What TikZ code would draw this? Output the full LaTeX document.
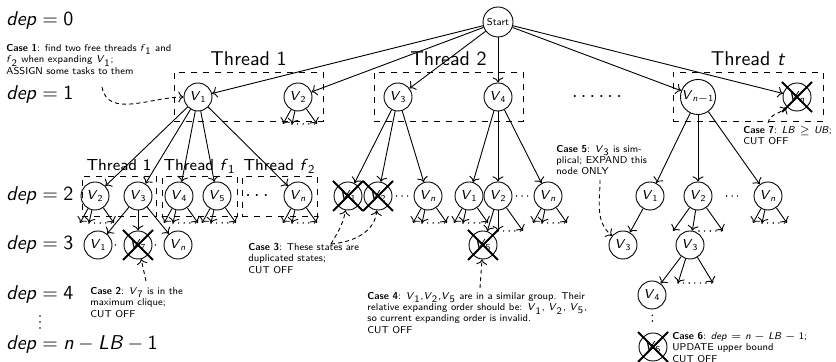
\documentclass[tikz,border=0pt]{standalone}
\usepackage{tikz}
\usetikzlibrary{positioning,arrows.meta,calc}
\renewcommand{\familydefault}{\sfdefault}
\newcommand{\vtx}[1]{\textit{V}\textsubscript{#1}}
\newcommand{\fv}[1]{\textit{f}\textsubscript{#1}}
\newcommand{\casenote}[1]{\textbf{Case #1}:}
\newcommand{\kids}[1]{%
  \path (#1) ++(-15,27) coordinate (#1-l) ++(9,0) coordinate (#1-m) ++(25,0) coordinate (#1-r);
  \draw[->] (#1) -- (#1-l);
  \draw[->] (#1) -- (#1-m);
  \draw[->] (#1) -- (#1-r);
  \draw[dotrow] (#1-m) -- (#1-r);}

\begin{document}
\begin{tikzpicture}[x=0.5pt, y=-0.5pt, line width=0.45pt,
  st/.style={circle, draw, minimum size=14pt, inner sep=0pt, font=\fontsize{6.5}{7}\selectfont},
  xline/.style={line width=0.9pt},
  cut/.style={st, append after command={
      ([shift={(-15,-15)}]\tikzlastnode.center) edge[xline] ([shift={(15,15)}]\tikzlastnode.center)
      ([shift={(-15,15)}]\tikzlastnode.center) edge[xline] ([shift={(15,-15)}]\tikzlastnode.center)}},
  grp/.style={draw, dashed, inner sep=0pt, minimum height=#1},
  lab/.style={font=\normalsize, inner sep=2pt, text depth=0pt},
  sublab/.style={lab, font=\fontsize{8}{9}\selectfont},
  note/.style={font=\fontsize{5}{5.6}\selectfont, align=left, anchor=north west, inner sep=0pt},
  hint/.style={->, dash pattern=on 2pt off 1.6pt},
  dotrow/.style={line width=0.8pt, line cap=round, dash pattern=on 0pt off 2.8pt},
  deplab/.style={anchor=west, inner sep=0pt, font=\normalsize}]
\useasboundingbox (0,0) rectangle (836,362);

\node[deplab] (d0) at (6,21) {\textit{dep}${}={}$0};
\node[deplab] (d1) at (6,95) {\textit{dep}${}={}$1};
\node[deplab] (d2) at (6,196) {\textit{dep}${}={}$2};
\node[deplab] (d3) at (6,245) {\textit{dep}${}={}$3};
\node[deplab] (d4) at (6,295) {\textit{dep}${}={}$4};
\coordinate (dvtop) at (40,316);
\coordinate (dvbot) at (40,330);
\draw[dotrow, line width=0.9pt, dash pattern=on 0pt off 3pt] (dvtop) -- (dvbot);
\node[deplab] (dlast) at (6,345) {\textit{dep}${}={}$\textit{n}${}-{}$\textit{LB}${}-{}$1};

% thread boxes
\node[grp=24.5pt, minimum width=74.5pt] (t1) at (248.5,96.5) {};
\node[grp=24.5pt, minimum width=74.5pt] (t2) at (448.5,96.5) {};
\node[grp=24.5pt, minimum width=75pt] (t3) at (748,96.5) {};
\node[lab, above=1pt of t1] (t1lab) {Thread 1};
\node[lab, above=1pt of t2] (t2lab) {Thread 2};
\node[lab, above=1pt of t3] (t3lab) {Thread \textit{t}};
\node[grp=20pt, minimum width=37pt] (g1) at (119,196.5) {};
\node[grp=20pt, minimum width=37.5pt] (g2) at (199.5,196.5) {};
\node[grp=20pt, minimum width=37.5pt] (g3) at (279.5,196.5) {};
\node[sublab, above=0.5pt of g1] (g1lab) {Thread 1};
\node[sublab, above=0.5pt of g2] (g2lab) {Thread \fv{1}};
\node[sublab, above=0.5pt of g3] (g3lab) {Thread \fv{2}};

\node[st, minimum size=15pt, font=\tiny] (start) at (498,22) {Start};
\node[st] (v1) at (198,97) {\vtx{1}};
\node[st] (v2) at (298,97) {\vtx{2}};
\node[st] (v3) at (398,97) {\vtx{3}};
\node[st] (v4) at (498,97) {\vtx{4}};
\node (gap) at (597,97) {$\cdots\cdots$};
\node[st] (vm) at (698,97) {\vtx{\textit{n}$-$1}};
\node[cut] (vx) at (797,97) {\vtx{\textit{n}}};
\foreach \v in {v1,v2,v3,v4,vm,vx}
  \draw[->] (start) -- (\v);

\node[st] (a2) at (95,196) {\vtx{2}};
\node[st] (a3) at (138,196) {\vtx{3}};
\node[st] (a4) at (179,196) {\vtx{4}};
\node[st] (a5) at (217,196) {\vtx{5}};
\node (adots) at (257,196) {$\cdots$};
\node[st] (an) at (298,196) {\vtx{\textit{n}}};
\foreach \v in {a2,a3,a4,a5,an}
  \draw[->] (v1) -- (\v);

\node[cut] (b1) at (348,196) {\vtx{1}};
\node[cut] (b2) at (378,196) {\vtx{2}};
\node[st] (bn) at (428,196) {\vtx{\textit{n}}};
\node[st] (c1) at (469,196) {\vtx{1}};
\node[st] (c2) at (498,196) {\vtx{2}};
\node[st] (cn) at (548,196) {\vtx{\textit{n}}};
\node[st] (e1) at (650,196) {\vtx{1}};
\node[st] (e2) at (698,196) {\vtx{2}};
\node[st] (en) at (768,196) {\vtx{\textit{n}}};
\foreach \v in {b1,b2,bn}
  \draw[->] (v3) -- (\v);
\foreach \v in {c1,c2,cn}
  \draw[->] (v4) -- (\v);
\foreach \v in {e1,e2,en}
  \draw[->] (vm) -- (\v);
\draw[dotrow, shorten <=2pt, shorten >=2pt] (b2) -- (bn);
\draw[dotrow, shorten <=2pt, shorten >=2pt] (c2) -- (cn);
\draw[dotrow, shorten <=7pt, shorten >=7pt] (e2) -- (en);

\node[st] (h1) at (98,245) {\vtx{1}};
\node[cut] (hx) at (138,245) {\vtx{7}};
\node[st] (hn) at (178,245) {\vtx{\textit{n}}};
\foreach \v in {h1,hx,hn}
  \draw[->] (a3) -- (\v);
\draw[dotrow, shorten <=1.5pt, shorten >=1.5pt] (h1) -- (hx);
\draw[dotrow, shorten <=1.5pt, shorten >=1.5pt] (hx) -- (hn);

\node[cut] (cx) at (483,245) {\vtx{5}};
\node[st] (k1) at (623,245) {\vtx{3}};
\node[st] (k2) at (690,245) {\vtx{3}};
\node[st] (k4) at (652,295) {\vtx{4}};
\node[cut] (kx) at (653,347) {\vtx{5}};
\draw[->] (e1) -- (k1);
\draw[dotrow, shorten <=3pt, shorten >=3pt] (k4) -- (kx);

\kids{v2}
\kids{a2}
\kids{a4}
\kids{a5}
\kids{an}
\kids{bn}
\kids{c1}
\kids{cn}
\kids{en}

\path (c2) ++(0,35) coordinate (c2-m) ++(25,0) coordinate (c2-r);
\draw[->] (c2) -- (cx);
\draw[->] (c2) -- (c2-m);
\draw[->] (c2) -- (c2-r);
\draw[dotrow] (c2-m) -- (c2-r);

\path (e2) ++(-25,35) coordinate (e2-l) ++(26,0) coordinate (e2-m) ++(24,0) coordinate (e2-r);
\draw[->] (e2) -- (e2-l);
\draw[->] (e2) -- (k2);
\draw[->] (e2) -- (e2-r);
\draw[dotrow] (e2-m) -- (e2-r);

\path (k2) ++(-12,38) coordinate (k2-m) ++(35,0) coordinate (k2-r);
\draw[->] (k2) -- (k4);
\draw[->] (k2) -- (k2-m);
\draw[->] (k2) -- (k2-r);
\draw[dotrow] (k2-m) -- (k2-r);

% case notes
\node[note] (case1) at (6,44) {\casenote{1} find two free threads \fv{1} and\\ \fv{2} when expanding \vtx{1};\\ ASSIGN some tasks to them};
\coordinate (case1-from) at (102,87);
\draw[hint] (case1-from) to[out=-80,in=180] (v1);

\node[note] (case2) at (90,287) {\casenote{2} \vtx{7} is in the\\ maximum clique;\\ CUT OFF};
\coordinate (case2-from) at (146,281);
\draw[hint] (case2-from) -- (hx);

\node[note] (case3) at (248,243) {\casenote{3} These states are\\ duplicated states;\\ CUT OFF};
\coordinate (case3-from) at (331,244);
\draw[hint] (case3-from) to[out=60,in=-100] (b1);
\draw[hint] (case3-from) to[out=5,in=-95] (b2);

\node[note] (case4) at (367,292) {\casenote{4} \vtx{1},\vtx{2},\vtx{5} are in a similar group. Their\\ relative expanding order should be: \vtx{1}, \vtx{2}, \vtx{5},\\ so current expanding order is invalid.\\ CUT OFF};
\coordinate (case4-from) at (480,288);
\draw[hint] (case4-from) -- (cx);

\node[note] (case5) at (556,145) {\casenote{5} \vtx{3} is sim-\\ plical; EXPAND this\\ node ONLY};
\coordinate (case5-from) at (600,180);
\draw[hint] (case5-from) to[out=-90,in=140] (k1);

\node[note] (case6) at (672,332) {\casenote{6} \textit{dep}${}={}$\textit{n}${}-{}$\textit{LB}${}-{}$1;\\ UPDATE upper bound\\ CUT OFF};

\node[note] (case7) at (743,126) {\casenote{7} \textit{LB}${}\geq{}$\textit{UB};\\ CUT OFF};
\coordinate (case7-from) at (768,123);
\draw[hint] (case7-from) to[out=80,in=225] (vx);
\end{tikzpicture}
\end{document}
